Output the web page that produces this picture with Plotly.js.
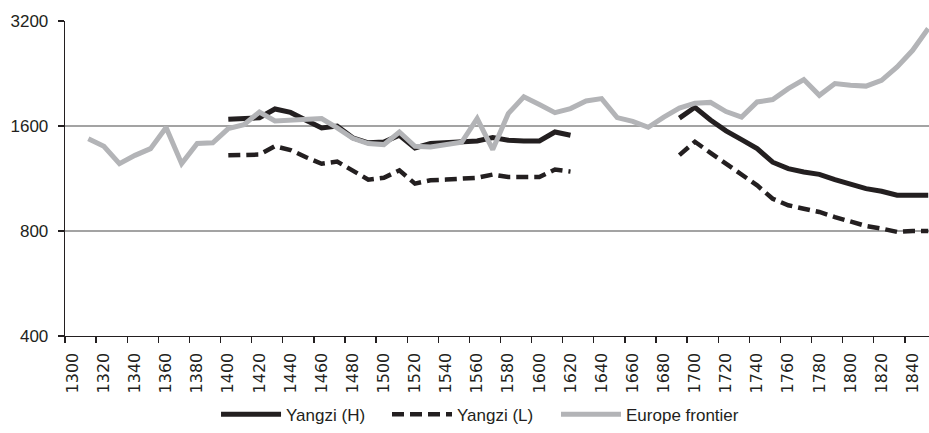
<!DOCTYPE html>
<html>
<head>
<meta charset="utf-8">
<script src="https://cdn.plot.ly/plotly-3.0.1.min.js"></script>
<style>
html,body{margin:0;padding:0;background:#fff;}
#chart{width:929px;height:433px;}
</style>
</head>
<body>
<div id="chart"></div>
<script>
var years = [1300,1310,1320,1330,1340,1350,1360,1370,1380,1390,1400,1410,1420,1430,1440,1450,1460,1470,1480,1490,1500,1510,1520,1530,1540,1550,1560,1570,1580,1590,1600,1610,1620,1630,1640,1650,1660,1670,1680,1690,1700,1710,1720,1730,1740,1750,1760,1770,1780,1790,1800,1810,1820,1830,1840,1850];

var yangziHigh = [null,null,null,null,null,null,null,null,null,null,
  1673,1685,1690,1790,1750,1662,1580,1600,1480,1432,1439,1505,1384,1425,1432,1439,1450,1482,1456,1450,1450,1538,1505,
  null,null,null,null,null,null,
  1685,1810,1665,1550,1463,1378,1260,1208,1181,1163,1123,1089,1058,1040,1013,1013,1013];

var yangziLow = [null,null,null,null,null,null,null,null,null,null,
  1318,1325,1325,1400,1365,1302,1247,1265,1190,1123,1137,1194,1094,1118,1123,1126,1137,1161,1142,1142,1142,1200,1184,
  null,null,null,null,null,null,
  1320,1442,1340,1245,1163,1081,990,948,927,907,877,853,827,813,795,800,800];

var europeFrontier = [null,1472,1400,1248,1318,1378,1584,1248,1425,1432,1573,1614,1755,1655,1665,1670,1680,1580,1475,1425,1415,1538,1400,1393,1412,1437,1680,1370,1736,1940,1843,1748,1795,1887,1917,1691,1650,1587,1697,1800,1860,1870,1760,1697,1875,1905,2048,2174,1959,2117,2093,2082,2163,2362,2637,3044];

var xTickLabels = ['1300','1320','1340','1360','1380','1400','1420','1440','1460','1480','1500','1520','1540','1560','1580','1600','1620','1640','1660','1680','1700','1720','1740','1760','1780','1800','1820','1840'];
var yTickValues = [400,800,1600,3200];
var yTickLabels = ['400','800','1600','3200'];

var seriesNames = ['Yangzi (H)','Yangzi (L)','Europe frontier'];

var traces = [
  {x: years, y: yangziHigh, name: seriesNames[0], type: 'scatter', mode: 'lines',
   line: {color: '#231f20', width: 5}, connectgaps: false, legend: 'legend'},
  {x: years, y: yangziLow, name: seriesNames[1], type: 'scatter', mode: 'lines',
   line: {color: '#231f20', width: 4.5, dash: '12px,6px'}, connectgaps: false, legend: 'legend2'},
  {x: years, y: europeFrontier, name: seriesNames[2], type: 'scatter', mode: 'lines',
   line: {color: '#b3b4b7', width: 5}, connectgaps: false, legend: 'legend3'}
];

function legendAt(xPos) {
  return {
    orientation: 'h', x: xPos, xanchor: 'left', y: -0.25, yanchor: 'middle',
    font: {family: "Liberation Sans", size: 17, color: '#231f20'},
    itemwidth: 60, bgcolor: 'rgba(0,0,0,0)', borderwidth: 0
  };
}

var layout = {
  width: 929, height: 433,
  margin: {l: 65, r: 0, t: 21, b: 97, pad: 0},
  paper_bgcolor: '#ffffff', plot_bgcolor: '#ffffff',
  showlegend: true,
  legend: legendAt(0.1748),
  legend2: legendAt(0.3727),
  legend3: legendAt(0.5683),
  xaxis: {
    type: 'linear', range: [1295, 1850.5],
    tickmode: 'array', tickvals: xTickLabels.map(Number), ticktext: xTickLabels,
    ticks: '', tickangle: -90, ticklabelstandoff: 9,
    tickfont: {family: "DejaVu Sans", size: 16, color: '#231f20'},
    showgrid: false, zeroline: false,
    showline: true, linecolor: '#231f20', linewidth: 1.3,
    minor: {ticks: 'outside', ticklen: 6, tickwidth: 1.3, tickcolor: '#231f20',
            tickmode: 'linear', tick0: 1295, dtick: 20, showgrid: false}
  },
  yaxis: {
    type: 'log', range: [Math.log10(400), Math.log10(3200)],
    tickmode: 'array', tickvals: yTickValues, ticktext: yTickLabels,
    ticks: 'outside', ticklen: 6, tickwidth: 1.3, tickcolor: '#231f20',
    ticklabelstandoff: 6,
    tickfont: {family: "Liberation Sans", size: 17, color: '#231f20'},
    showgrid: true, gridcolor: '#a3a3a3', gridwidth: 1.5,
    zeroline: false, showline: true, linecolor: '#231f20', linewidth: 1.3
  }
};

Plotly.newPlot('chart', traces, layout, {displayModeBar: false, staticPlot: true});
</script>
</body>
</html>
